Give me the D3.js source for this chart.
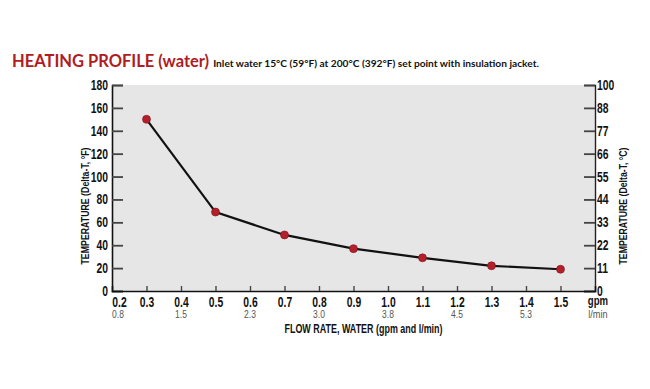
<!DOCTYPE html>
<html>
<head>
<meta charset="utf-8">
<script src="https://cdn.jsdelivr.net/npm/d3@7"></script>
<style>
  body { margin: 0; background: #fff; }
  svg { display: block; }
</style>
</head>
<body>
<div id="container"></div>
<script>
/* DATA */
const flowGpm = [0.3, 0.5, 0.7, 0.9, 1.1, 1.3, 1.5]
const deltaF = [150, 69, 49, 37, 29, 22, 19]

const xTicks = [0.2, 0.3, 0.4, 0.5, 0.6, 0.7, 0.8, 0.9, 1.0, 1.1, 1.2, 1.3, 1.4, 1.5]
const lpmTicks = [0.2, 0.4, 0.6, 0.8, 1.0, 1.2, 1.4]
const lpmLabels = ["0.8", "1.5", "2.3", "3.0", "3.8", "4.5", "5.3"]
const yTicksF = [0, 20, 40, 60, 80, 100, 120, 140, 160, 180]
const yLabelsC = ["0", "11", "22", "33", "44", "55", "66", "77", "88", "100"]

/* CONSTANTS */
const W = 650, H = 389
const margin = {top: 85, right: 55, bottom: 98, left: 112}
const width = W - margin.left - margin.right,
      height = H - margin.top - margin.bottom

const font = '"Liberation Sans", Arial, sans-serif'
const red = "#b01c22"

// squeeze text horizontally (no condensed font installed)
function squeeze(sel, k) {
  sel.each(function() {
    const t = d3.select(this)
    const x = +t.attr("x") || 0
    t.attr("x", x / k).attr("transform", "scale(" + k + ",1)")
  })
}

const svg = d3.select("#container")
  .append("svg")
   .attr("width", W)
   .attr("height", H)

// title
const title = svg.append("text")
  .attr("x", 12)
  .attr("y", 67)
  .style("font-family", "Lato, sans-serif")
  .style("font-weight", "bold")
title.append("tspan")
  .attr("fill", red)
  .style("font-size", "16.5px")
  .text("HEATING PROFILE (water) ")
title.append("tspan")
  .attr("fill", "#111")
  .style("font-size", "10.2px")
  .text("Inlet water 15°C (59°F) at 200°C (392°F) set point with insulation jacket.")

const g = svg.append("g")
  .attr("transform", "translate(" + margin.left + "," + margin.top + ")")

/* SCALES */
const xScale = d3.scaleLinear()
  .domain([0.2, 1.6])
  .range([0, width])

const yScale = d3.scaleLinear()
  .domain([0, 180])
  .range([height, 0])

// background
g.append("rect")
  .attr("width", width)
  .attr("height", height)
  .attr("fill", "#e6e6e6")

// left axis
const yLeft = g.append("g")
  .call(d3.axisLeft(yScale).tickValues(yTicksF).tickSize(-11).tickPadding(4))
yLeft.select(".domain").attr("stroke", "#111").attr("stroke-width", 1.6)
yLeft.selectAll(".tick line").attr("stroke", "#444").attr("stroke-width", 1.8)
yLeft.selectAll(".tick text")
  .style("font-family", font).style("font-size", "14px").style("font-weight", "bold")
  .attr("fill", "#111")
  .call(squeeze, 0.74)

// right axis
const yRight = g.append("g")
  .attr("transform", "translate(" + width + ",0)")
  .call(d3.axisRight(yScale).tickValues(yTicksF).tickSize(-11).tickPadding(2)
    .tickFormat((d, i) => yLabelsC[i]))
yRight.select(".domain").attr("stroke", "#222").attr("stroke-width", 1.4)
yRight.selectAll(".tick line").attr("stroke", "#444").attr("stroke-width", 1.8)
yRight.selectAll(".tick text")
  .style("font-family", font).style("font-size", "14px").style("font-weight", "bold")
  .attr("fill", "#111")
  .call(squeeze, 0.74)

// bottom axis (gpm)
const xAxis = g.append("g")
  .attr("transform", "translate(0," + height + ")")
  .call(d3.axisBottom(xScale).tickValues(xTicks).tickSize(-5).tickPadding(4)
    .tickFormat(d3.format(".1f")))
xAxis.select(".domain").attr("stroke", "#111").attr("stroke-width", 1.6)
xAxis.selectAll(".tick line").attr("stroke", "#444").attr("stroke-width", 1.4)
  .filter(d => d === 0.2).remove()
xAxis.selectAll(".tick text")
  .style("font-family", font).style("font-size", "14px").style("font-weight", "bold")
  .attr("fill", "#111")
  .attr("dy", null)
  .attr("y", 16)
  .attr("x", d => d === 0.2 ? 7 : 0)
  .call(squeeze, 0.74)

// second row (l/min)
g.append("g")
  .selectAll("text")
  .data(lpmTicks)
  .join("text")
   .attr("x", d => xScale(d) + (d === 0.2 ? 6 : 0))
   .attr("y", height + 27.5)
   .attr("text-anchor", "middle")
   .style("font-family", font)
   .style("font-size", "11.5px")
   .attr("fill", "#555")
   .text((d, i) => lpmLabels[i])
   .call(squeeze, 0.74)

// unit labels at right end
g.append("text")
  .attr("x", width + 3)
  .attr("y", height + 14.5)
  .attr("text-anchor", "middle")
  .style("font-family", font)
  .style("font-size", "12px")
  .style("font-weight", "bold")
  .attr("fill", "#111")
  .text("gpm")
  .call(squeeze, 0.8)
g.append("text")
  .attr("x", width + 3)
  .attr("y", height + 27.5)
  .attr("text-anchor", "middle")
  .style("font-family", font)
  .style("font-size", "11.5px")
  .attr("fill", "#555")
  .text("l/min")
  .call(squeeze, 0.8)

// axis titles
g.append("text")
  .attr("x", width / 2 + 10)
  .attr("y", height + 42)
  .attr("text-anchor", "middle")
  .attr("textLength", 158)
  .attr("lengthAdjust", "spacingAndGlyphs")
  .style("font-family", font)
  .style("font-size", "12.5px")
  .style("font-weight", "bold")
  .attr("fill", "#111")
  .text("FLOW RATE, WATER  (gpm and l/min)")

g.append("text")
  .attr("transform", "translate(-23," + (height / 2 + 18) + ") rotate(-90)")
  .attr("text-anchor", "middle")
  .attr("textLength", 117)
  .attr("lengthAdjust", "spacingAndGlyphs")
  .style("font-family", font)
  .style("font-size", "11.5px")
  .style("font-weight", "bold")
  .attr("fill", "#111")
  .text("TEMPERATURE  (Delta-T, °F)")

g.append("text")
  .attr("transform", "translate(" + (width + 31.5) + "," + (height / 2 + 18) + ") rotate(-90)")
  .attr("text-anchor", "middle")
  .attr("textLength", 117)
  .attr("lengthAdjust", "spacingAndGlyphs")
  .style("font-family", font)
  .style("font-size", "11.5px")
  .style("font-weight", "bold")
  .attr("fill", "#111")
  .text("TEMPERATURE  (Delta-T, °C)")

// line
const points = flowGpm.map((d, i) => ({x: d, y: deltaF[i]}))
const line = d3.line()
  .x(d => xScale(d.x))
  .y(d => yScale(d.y))

g.append("path")
  .datum(points)
  .attr("fill", "none")
  .attr("stroke", "#111")
  .attr("stroke-width", 2.2)
  .attr("d", line)

g.selectAll("circle.pt")
  .data(points)
  .join("circle")
   .attr("class", "pt")
   .attr("cx", d => xScale(d.x))
   .attr("cy", d => yScale(d.y))
   .attr("r", 4)
   .attr("fill", "#b3202b")
   .attr("stroke", "#7a1018")
   .attr("stroke-width", 0.6)
</script>
</body>
</html>
